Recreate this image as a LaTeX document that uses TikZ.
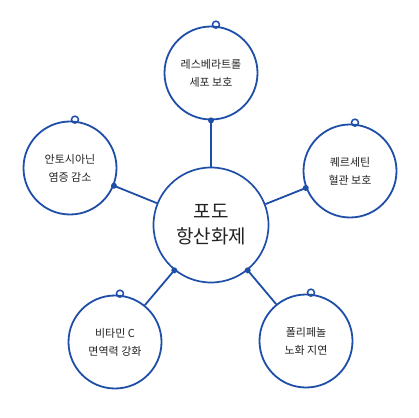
\documentclass[tikz,border=0pt]{standalone}
\usepackage{fontspec}
\newfontfamily\krfont{Noto Sans CJK KR}
\definecolor{grapeblue}{RGB}{30,78,168}
\definecolor{inkgray}{RGB}{34,34,34}

\begin{document}
\begin{tikzpicture}[x=1pt,y=1pt,
  leaf/.style={circle, draw=grapeblue, line width=1.8pt, minimum size=93pt, inner sep=0pt,
    align=center, text=inkgray, font=\krfont\fontsize{11}{18}\selectfont},
  hub/.style={circle, draw=grapeblue, line width=1.7pt, minimum size=115pt, inner sep=0pt,
    align=center, text=inkgray, font=\krfont\fontsize{19}{25}\selectfont},
  link/.style={draw=grapeblue, line width=1.8pt},
  curl/.style={draw=grapeblue, line width=1.5pt}]

\useasboundingbox (0,0) rectangle (419,417);

\node[hub] (grape) at (211,192) {포도\\항산화제};

\node[leaf] (resv) at (211,344) {레스베라트롤\\세포 보호};
\node[leaf] (anth) at (70,249) {안토시아닌\\염증 감소};
\node[leaf] (quer) at (350,246) {퀘르세틴\\혈관 보호};
\node[leaf] (vitc) at (115,75) {비타민 C\\면역력 강화};
\node[leaf] (poly) at (306,76) {폴리페놀\\노화 지연};

% small curls at the top of each leaf
\foreach \n in {resv,anth,quer,vitc,poly}
  \draw[curl] ([yshift=1.2pt]\n.84) circle (3.5pt);

\draw[link] (resv.270) -- (grape.90);
\draw[link] (anth.-22) -- (grape.158);
\draw[link] (quer.201) -- (grape.21);
\draw[link] (vitc.51) -- (grape.231);
\draw[link] (poly.129) -- (grape.309);

\fill[grapeblue] (resv.270) circle (3pt);
\fill[grapeblue] (anth.-22) circle (3pt);
\fill[grapeblue] (quer.201) circle (3pt);
\fill[grapeblue] (grape.231) circle (3pt);
\fill[grapeblue] (grape.309) circle (3pt);

\end{tikzpicture}
\end{document}
